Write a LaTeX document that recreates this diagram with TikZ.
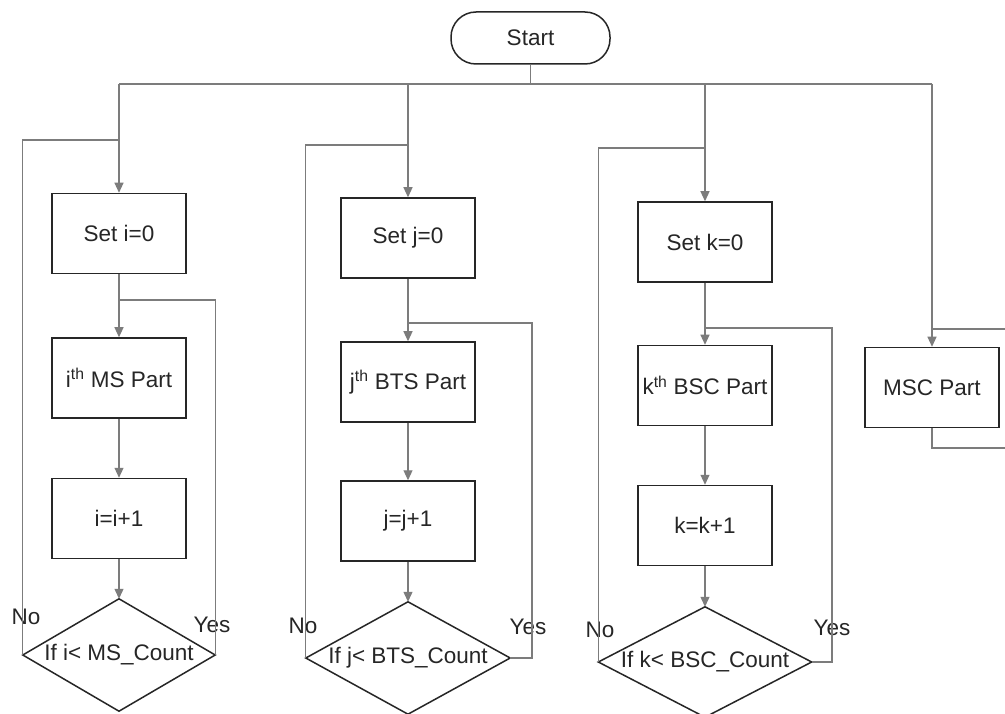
\documentclass[tikz,border=0pt]{standalone}
\usepackage{fontspec}
\setmainfont{Liberation Sans}
\usetikzlibrary{arrows.meta}
\definecolor{ink}{HTML}{262626}
\definecolor{wire}{HTML}{7C7C7C}
\begin{document}
\begin{tikzpicture}[x=1pt,y=-1pt,
  every node/.style={font=\fontsize{22.5}{26}\selectfont, text=ink},
  box/.style={draw=ink, line width=1.5pt, rectangle, inner sep=0pt, minimum width=134pt, minimum height=80pt},
  terminal/.style={draw=ink, line width=1.5pt, rounded corners=25pt, inner sep=0pt, minimum width=159pt, minimum height=52pt},
  decision/.style={rectangle, inner sep=0pt},
  dshape/.style={draw=ink, line width=1.5pt, line join=miter},
  conn/.style={draw=wire, line width=1.1pt},
  arr/.style={conn, -{Triangle[length=10pt,width=9pt,fill=wire]}},
  lbl/.style={inner sep=0pt},
]
\clip (0,0) rectangle (1005,714);
\fill[white] (0,0) rectangle (1005,714);

% nodes
\node[terminal] (start) at (530.5,38) {Start};

\node[box] (seti) at (119,233.5) {Set i=0};
\node[box] (msi)  at (119,378)   {i\textsuperscript{th} MS Part};
\node[box] (inci) at (119,518.5) {i=i+1};
\node[decision, minimum width=192pt, minimum height=112pt] (ifi) at (119,655) {If i< MS\_Count};

\node[box] (setj) at (408,238) {Set j=0};
\node[box] (btsj) at (408,382) {j\textsuperscript{th} BTS Part};
\node[box] (incj) at (408,521) {j=j+1};
\node[decision, minimum width=204pt, minimum height=112pt] (ifj) at (408,658) {If j< BTS\_Count};

\node[box] (setk) at (705,242)   {Set k=0};
\node[box] (bsck) at (705,385.5) {k\textsuperscript{th} BSC Part};
\node[box] (inck) at (705,525.5) {k=k+1};
\node[decision, minimum width=213pt, minimum height=110pt] (ifk) at (705,662) {If k< BSC\_Count};

\node[box] (msc) at (932,387.5) {MSC Part};

\foreach \d in {ifi,ifj,ifk}
  \draw[dshape] (\d.north) -- (\d.east) -- (\d.south) -- (\d.west) -- cycle;

% labels
\node[lbl] (noi)  at (26,617)  {No};
\node[lbl] (yesi) at (212,625) {Yes};
\node[lbl] (noj)  at (303,626) {No};
\node[lbl] (yesj) at (528,627) {Yes};
\node[lbl] (nok)  at (600,630) {No};
\node[lbl] (yesk) at (832,628) {Yes};

% helper coordinates
\coordinate (bus) at (0,84);
\coordinate (backi) at (0,140);
\coordinate (backj) at (0,145);
\coordinate (backk) at (0,148);
\coordinate (loopi) at (214,300);
\coordinate (loopj) at (532,323);
\coordinate (loopk) at (832,328);
\coordinate (mscin) at (1006,329);
\coordinate (mscout) at (1006,448);

% bus from start
\draw[conn] (start.south) -- (start.south |- bus);
\draw[conn] (seti.north |- bus) -- (msc.north |- bus);
\draw[arr] (seti.north |- bus) -- (seti.north);
\draw[arr] (setj.north |- bus) -- (setj.north);
\draw[arr] (setk.north |- bus) -- (setk.north);
\draw[arr] (msc.north |- bus) -- (msc.north);

% column i
\draw[arr] (seti.south) -- (msi.north);
\draw[arr] (msi.south) -- (inci.north);
\draw[arr] (inci.south) -- (ifi.north);
\draw[conn] (ifi.east) |- (seti.south |- loopi);
\draw[conn] (ifi.west) |- (seti.north |- backi);

% column j
\draw[arr] (setj.south) -- (btsj.north);
\draw[arr] (btsj.south) -- (incj.north);
\draw[arr] (incj.south) -- (ifj.north);
\draw[conn] (ifj.east) -| (loopj) -- (setj.south |- loopj);
\draw[conn] (ifj.west) |- (setj.north |- backj);

% column k
\draw[arr] (setk.south) -- (bsck.north);
\draw[arr] (bsck.south) -- (inck.north);
\draw[arr] (inck.south) -- (ifk.north);
\draw[conn] (ifk.east) -| (loopk) -- (setk.south |- loopk);
\draw[conn] (ifk.west) |- (setk.north |- backk);

% MSC part
\draw[conn] (mscin) -- (msc.north |- mscin);
\draw[conn] (msc.south) |- (mscout);
\end{tikzpicture}
\end{document}
